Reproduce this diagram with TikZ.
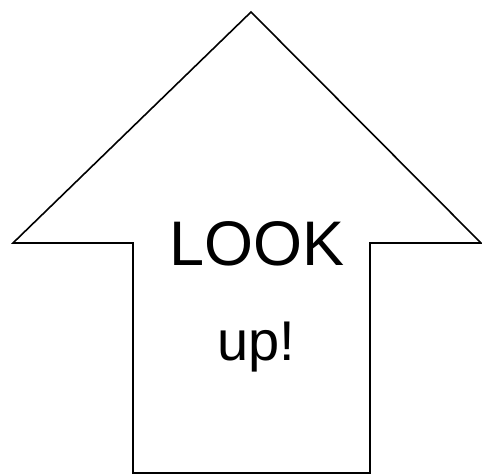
\documentclass[tikz,border=0pt]{standalone}
\usepackage{fontspec}
\setmainfont{Liberation Sans}
\usetikzlibrary{positioning}

\begin{document}
\begin{tikzpicture}[
  x=1pt, y=-1pt,
  outline/.style={draw, line width=1.6pt, line join=miter},
  bigtext/.style={font=\fontsize{63}{63}\selectfont, inner sep=0pt, anchor=base},
  smalltext/.style={font=\fontsize{56}{56}\selectfont, inner sep=0pt, anchor=base},
]
\useasboundingbox (0,0) rectangle (482,475);

% ── Arrow outline ───────────────────────────────────────────────────
\coordinate (tip)    at (251,12);
\coordinate (lwing)  at (13,243);
\coordinate (lneck)  at (133,243);
\coordinate (lfoot)  at (133,473);
\coordinate (rfoot)  at (370,473);
\coordinate (rneck)  at (370,243);
\coordinate (rwing)  at (481,243);

\draw[outline] (tip) -- (lwing) -- (lneck) -- (lfoot) -- (rfoot)
  -- (rneck) -- (rwing) -- cycle;

% ── Text ────────────────────────────────────────────────────────────
\node[bigtext] (look) at (257,265) {LOOK};
\node[smalltext] (up) at (256,360) {up!};

\end{tikzpicture}
\end{document}
